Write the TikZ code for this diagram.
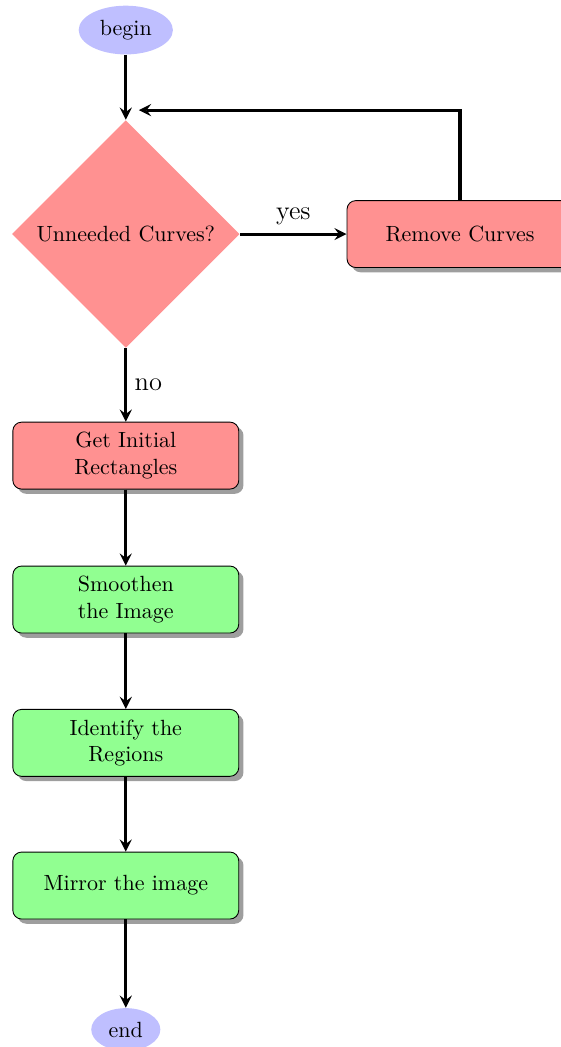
\documentclass[tikz,border=0pt]{standalone}
\usetikzlibrary{shapes.geometric,shadows}
\tikzset{
  startstop/.style={ellipse,fill=blue!25},
  decision/.style={diamond,fill=red!43,minimum width=3.64cm,minimum height=3.64cm,inner sep=0pt},
  redbox/.style={rectangle,rounded corners,draw,fill=red!43,minimum width=3.61cm,minimum height=1.07cm,align=center,drop shadow={fill=black!38,opacity=1}},
  greenbox/.style={redbox,fill=green!43},
  flow/.style={-stealth,line width=1.4pt}
}
\begin{document}
\begin{tikzpicture}
		\useasboundingbox (0,0) rectangle (8.96,-16.73);
		\node[startstop] (begin) at (2.01,-0.48) {begin};
		\node[decision] (curves) at (2.01,-3.74) {Unneeded Curves?};
		\node[redbox] (remove) at (7.35,-3.74) {Remove Curves};
		\node[redbox] (initial) at (2.01,-7.28) {Get Initial\\Rectangles};
		\node[greenbox] (smooth) at (2.01,-9.58) {Smoothen\\the Image};
		\node[greenbox] (regions) at (2.01,-11.87) {Identify the\\Regions};
		\node[greenbox] (mirror) at (2.01,-14.15) {Mirror the image};
		\node[startstop] (end) at (2.01,-16.45) {end};
		\coordinate (join) at (2.22,-1.76);
		% connectors
		\draw[flow] (begin) -- (curves);
		\draw[flow] (curves) -- node[above]{\large yes} (remove);
		\draw[flow] (remove.north) |- (join);
		\draw[flow] (curves) -- node[right]{\large no} (initial);
		\draw[flow] (initial) -- (smooth);
		\draw[flow] (smooth) -- (regions);
		\draw[flow] (regions) -- (mirror);
		\draw[flow] (mirror) -- (end);
\end{tikzpicture}
\end{document}
